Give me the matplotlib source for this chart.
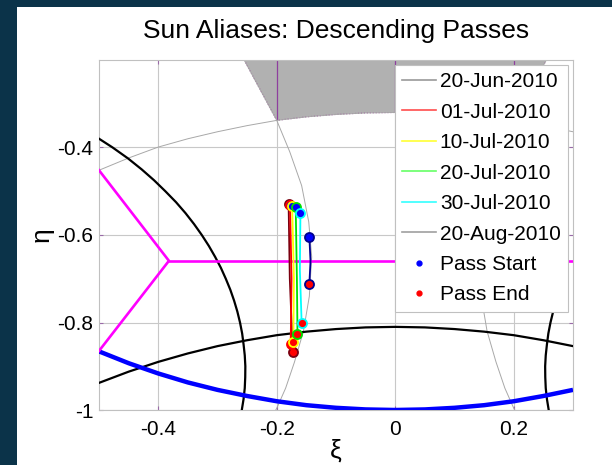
import matplotlib
matplotlib.use('Agg')
import matplotlib.pyplot as plt
from matplotlib.lines import Line2D
from matplotlib.patches import Polygon, Rectangle

plt.rcParams['font.family'] = ['Liberation Sans', 'DejaVu Sans']
plt.rcParams['axes.unicode_minus'] = False

# ---------------- data ----------------
dates = ['20-Jun-2010', '01-Jul-2010', '10-Jul-2010', '20-Jul-2010',
         '30-Jul-2010', '20-Aug-2010']
pass_xi = [[-0.180, -0.178, -0.173],
           [-0.1776, -0.175, -0.1765],
           [-0.174, -0.171, -0.172],
           [-0.168, -0.166, -0.165],
           [-0.160, -0.161, -0.158],
           [-0.145, -0.143, -0.145]]
pass_eta = [[-0.530, -0.700, -0.867],
            [-0.531, -0.700, -0.848],
            [-0.533, -0.700, -0.844],
            [-0.537, -0.700, -0.827],
            [-0.549, -0.680, -0.800],
            [-0.604, -0.660, -0.712]]

# alias boundary curves
top_arc_xi = [-0.5, -0.45, -0.4, -0.35, -0.3, -0.25, -0.2, -0.15, -0.1, -0.05, 0.0,
              0.05, 0.1, 0.15, 0.2, 0.25, 0.3]
top_arc_eta = [-0.452, -0.424, -0.399, -0.380, -0.364, -0.350, -0.338, -0.330, -0.3245,
               -0.321, -0.320, -0.321, -0.3245, -0.330, -0.338, -0.350, -0.364]

side_arc_xi = [-0.255, -0.2, -0.178, -0.158, -0.146, -0.141, -0.145, -0.155, -0.17,
               -0.185, -0.2, -0.21]
side_arc_eta = [-0.2, -0.338, -0.41, -0.487, -0.57, -0.65, -0.74, -0.82, -0.89,
                -0.95, -0.996, -1.02]
side_arc_r_xi = [0.255, 0.2, 0.178, 0.158, 0.146, 0.141, 0.145, 0.155, 0.17,
                 0.185, 0.2, 0.21]

sun_region_xi = [-0.255, -0.2, -0.15, -0.1, -0.05, 0.0, 0.05, 0.1, 0.15, 0.2, 0.255]
sun_region_eta = [-0.2, -0.338, -0.330, -0.3245, -0.321, -0.320, -0.321, -0.3245,
                  -0.330, -0.338, -0.2]

black_left_xi = [-0.501, -0.477, -0.451, -0.428, -0.407, -0.388, -0.370, -0.354,
                 -0.3396, -0.3265, -0.3146, -0.304, -0.2943, -0.286, -0.2784, -0.272,
                 -0.2665, -0.262, -0.2584, -0.256, -0.254, -0.253, -0.2532, -0.254,
                 -0.256, -0.259]
black_left_eta = [-0.379, -0.400, -0.425, -0.450, -0.475, -0.500, -0.525, -0.550,
                  -0.575, -0.600, -0.625, -0.650, -0.675, -0.700, -0.725, -0.750,
                  -0.775, -0.800, -0.825, -0.850, -0.875, -0.900, -0.925, -0.950,
                  -0.975, -1.000]
black_right_xi = [0.286, 0.2784, 0.272, 0.2665, 0.262, 0.2584, 0.256, 0.254, 0.253,
                  0.2532, 0.254, 0.256, 0.259]
black_right_eta = [-0.700, -0.725, -0.750, -0.775, -0.800, -0.825, -0.850, -0.875,
                   -0.900, -0.925, -0.950, -0.975, -1.000]

black_low_xi = [-0.5, -0.45, -0.4, -0.35, -0.3, -0.25, -0.2, -0.15, -0.1, -0.05, 0.0,
                0.05, 0.1, 0.15, 0.2, 0.25, 0.3]
black_low_eta = [-0.938, -0.9124, -0.890, -0.8707, -0.854, -0.8405, -0.829, -0.8209,
                 -0.815, -0.8112, -0.810, -0.8112, -0.815, -0.8209, -0.829, -0.8405,
                 -0.854]

blue_xi = [-0.5, -0.45, -0.4, -0.35, -0.3, -0.25, -0.2, -0.15, -0.1, -0.05, 0.0,
           0.05, 0.1, 0.15, 0.2, 0.25, 0.3]
blue_eta = [-0.866, -0.893, -0.9165, -0.937, -0.954, -0.968, -0.980, -0.989, -0.995,
            -0.9987, -1.0, -0.9987, -0.995, -0.989, -0.980, -0.968, -0.954]

magenta_xi = [-0.5, -0.382, -0.5]
magenta_eta = [-0.452, -0.659, -0.865]
magenta_h_xi = [-0.382, 0.3]
magenta_h_eta = [-0.659, -0.659]

xticks = [-0.4, -0.2, 0.0, 0.2]
xtick_labels = ['-0.4', '-0.2', '0', '0.2']
yticks = [-1.0, -0.8, -0.6, -0.4]
ytick_labels = ['-1', '-0.8', '-0.6', '-0.4']

# ---------------- styles ----------------
pass_colors = ['#7a0010', '#ff0000', '#ffff00', '#00e000', '#00ffff', '#000090']
legend_colors = ['#999999', '#ff4d4d', '#ffff33', '#66ff66', '#33ffff', '#a0a0a0']

W, H = 612, 465
NAVY = '#0b3349'
fig = plt.figure(figsize=(W / 100, H / 100), dpi=100, facecolor='white')
fig.patches.append(Rectangle((0, 0), 17 / W, 1, transform=fig.transFigure,
                             facecolor=NAVY, edgecolor='none', zorder=-10))
fig.patches.append(Rectangle((0, 1 - 7 / H), 1, 7 / H, transform=fig.transFigure,
                             facecolor=NAVY, edgecolor='none', zorder=-10))

ax = fig.add_axes([99 / W, 1 - 410 / H, (573 - 99) / W, (410 - 60) / H])
ax.set_facecolor('white')
ax.set_xlim(-0.5, 0.3)
ax.set_ylim(-1.0, -0.2)
ax.set_axisbelow(True)
ax.grid(True, color='#c8c8c8', lw=0.8)
for s in ax.spines.values():
    s.set_color('#c0c0c0')
    s.set_linewidth(0.8)

# sun alias region
poly = Polygon(list(zip(sun_region_xi, sun_region_eta)), closed=True,
               facecolor='#b1b1b1', edgecolor='#a04aa0', lw=0.8, ls=':', zorder=1)
ax.add_patch(poly)
for xv in [-0.2, 0.0, 0.2]:
    ln = ax.axvline(xv, color='#8e3f9e', lw=0.9, zorder=1.5)
    ln.set_clip_path(poly)

# boundaries
ax.plot(top_arc_xi, top_arc_eta, color='#a8a8a8', lw=0.7, zorder=2)
ax.plot(side_arc_xi, side_arc_eta, color='#a8a8a8', lw=0.7, zorder=2)
ax.plot(side_arc_r_xi, side_arc_eta, color='#a8a8a8', lw=0.7, zorder=2)
ax.plot(black_left_xi, black_left_eta, color='black', lw=1.6, zorder=3)
ax.plot(black_right_xi, black_right_eta, color='black', lw=1.6, zorder=3)
ax.plot(black_low_xi, black_low_eta, color='black', lw=1.6, zorder=3)
ax.plot(blue_xi, blue_eta, color='#0000ff', lw=3.2, zorder=3, solid_capstyle='butt')
ax.plot(magenta_xi, magenta_eta, color='#ff00ff', lw=1.9, zorder=3)
ax.plot(magenta_h_xi, magenta_h_eta, color='#ff00ff', lw=1.9, zorder=3)

# passes
for i in range(len(dates)):
    z = 5 + i
    ax.plot(pass_xi[i], pass_eta[i], color=pass_colors[i], lw=1.3, zorder=z)
    ax.plot(pass_xi[i][0], pass_eta[i][0], 'o', ms=6.5, mfc='#0000ff',
            mec=pass_colors[i], mew=1.3, zorder=z + 0.1)
    ax.plot(pass_xi[i][-1], pass_eta[i][-1], 'o', ms=6.5, mfc='#ff0000',
            mec=pass_colors[i], mew=1.3, zorder=z + 0.2)

ax.set_xticks(xticks)
ax.set_xticklabels(xtick_labels)
ax.set_yticks(yticks)
ax.set_yticklabels(ytick_labels)
ax.tick_params(direction='in', length=3, color='#9a6aa8', width=0.8,
               labelsize=15, top=True, right=True)
ax.tick_params(axis='x', pad=7)
ax.tick_params(axis='y', pad=4)

ax.set_xlabel('ξ', fontsize=19, labelpad=0)
ax.set_ylabel('η', fontsize=19, labelpad=3)

fig.text(336 / W, 1 - 38 / H, 'Sun Aliases: Descending Passes', ha='center',
         va='baseline', fontsize=19)

handles = [Line2D([], [], color=c, lw=1.2) for c in legend_colors]
handles.append(Line2D([], [], ls='none', marker='o', ms=3.5, mfc='#0000ff', mec='#0000ff'))
handles.append(Line2D([], [], ls='none', marker='o', ms=3.5, mfc='#ff0000', mec='#ff0000'))
labels = dates + ['Pass Start', 'Pass End']
leg = ax.legend(handles, labels, loc='upper right',
                bbox_to_anchor=(568 / W, 1 - 65 / H), bbox_transform=fig.transFigure,
                borderaxespad=0, fontsize=15, frameon=True, fancybox=False,
                framealpha=1, edgecolor='#c0c0c0', labelspacing=0.55,
                borderpad=0.35, handlelength=1.6, handletextpad=0.2)
leg.get_frame().set_linewidth(0.8)
leg.set_zorder(20)

fig.savefig('out.png', dpi=100, facecolor=fig.get_facecolor())
